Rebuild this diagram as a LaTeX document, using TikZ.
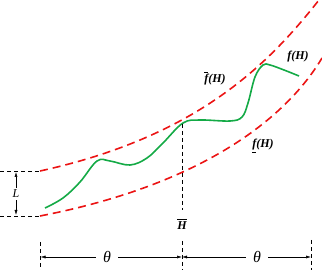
\documentclass[tikz,border=0pt]{standalone}
\usepackage{amsmath,amssymb}
\usepackage{fontspec}
\setmainfont{Liberation Serif}
\usepackage{tikz}
\usetikzlibrary{arrows.meta,positioning}
\usepackage{xcolor}
\definecolor{bnd}{RGB}{235,20,20}
\definecolor{fgreen}{RGB}{20,170,70}
\newcommand{\bi}[1]{{\bfseries\itshape #1}}

\begin{document}
\begin{tikzpicture}[x=1pt, y=-1pt,
          bound/.style={bnd, line width=1.6pt, dash pattern=on 8pt off 5pt},
          guide/.style={black, line width=0.7pt, dash pattern=on 4pt off 3pt},
          fcurve/.style={fgreen, line width=1.6pt},
          dim/.style={-{Latex[length=5pt,width=3pt]}, line width=0.5pt},
          lbl/.style={font=\fontsize{12}{14}\selectfont, inner sep=1pt}
      ]
        \useasboundingbox (0,0) rectangle (322,270);
        % bounds
        \draw[bound] (40,171) .. controls (200,136) and (270,62) .. (319,0);
        \draw[bound] (40,216) .. controls (200,185) and (285,120) .. (322,58);
        % the function
        \draw[fcurve] plot[smooth, tension=0.6] coordinates {(45,208) (63,198) (80,182)
            (97,161) (110,161) (130,165) (147,158) (163,143) (183,123) (200,120)
            (230,121) (242,117) (248,103) (255,77) (263,65) (270,65) (284,70) (299,76)};
        % guides
        \coordinate (ut) at (40,171);
        \coordinate (lt) at (40,216);
        \draw[guide] (0,171) -- (ut);
        \draw[guide] (0,216) -- (lt);
        \coordinate (hc) at (182,124);
        \node[lbl] (hbar) at (182,224) {$\overline{\mbox{\bi{H}}}$};
        \draw[guide] (hc) -- (182,210);
        \draw[guide] (182,241) -- (182,270);
        \draw[guide] (40,242) -- (40,270);
        \draw[guide] (311,240) -- (311,270);
        % width L
        \node[font=\fontsize{12}{14}\selectfont\itshape, inner sep=2pt] (L) at (16,194) {L};
        \coordinate (la) at (16,172);
        \coordinate (lb) at (16,215);
        \draw[dim] (L) -- (la);
        \draw[dim] (L) -- (lb);
        % spans
        \coordinate (d0) at (40.5,257);
        \coordinate (d1) at (182,257);
        \coordinate (d2) at (311,257);
        \node[font=\fontsize{16}{18}\selectfont\itshape, inner sep=0pt, minimum width=22pt] (th1) at (107,257) {θ};
        \node[font=\fontsize{16}{18}\selectfont\itshape, inner sep=0pt, minimum width=22pt] (th2) at (257,257) {θ};
        \draw[dim] (th1) -- (d0);
        \draw[dim] (th1) -- (d1);
        \draw[dim] (th2) -- (d1);
        \draw[dim] (th2) -- (d2);
        % labels
        \node[lbl] (fup) at (215,78) {$\overline{\mbox{\bi{f}}}$\bi{(H)}};
        \node[lbl] (fmid) at (298,57) {\bi{f(H)}};
        \node[lbl] (flow) at (263,146) {\underline{\bi{f}}\bi{(H)}};
      \end{tikzpicture}
\end{document}
